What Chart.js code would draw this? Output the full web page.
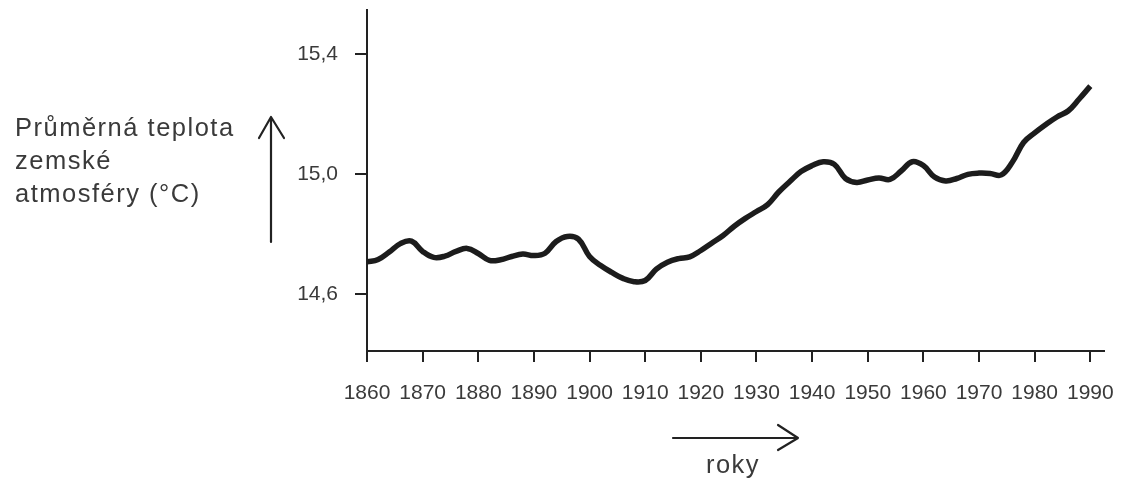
<!DOCTYPE html>
<html>
<head>
<meta charset="utf-8">
<script src="https://cdn.jsdelivr.net/npm/chart.js@4.4.0/dist/chart.umd.min.js"></script>
<style>
  body { margin: 0; background: #fff; }
  #wrap { position: relative; width: 1128px; height: 483px; }
  .lbl {
    position: absolute;
    font-family: "Liberation Sans", Arial, Helvetica, sans-serif;
    font-size: 25.5px;
    letter-spacing: 1.5px;
    line-height: 33.2px;
    color: #3a3a3a;
    white-space: nowrap;
  }
</style>
</head>
<body>
<div id="wrap">
  <canvas id="tempChart" width="1128" height="483"></canvas>
  <div class="lbl" style="left:15px; top:111px;">Průměrná teplota<br>zemské<br>atmosféry (°C)</div>
  <div class="lbl" style="left:633px; top:448px; width:200px; text-align:center;">roky</div>
</div>
<script>
  'use strict';

  // Years and mean temperature
  const years = [
    1860, 1862, 1864, 1866, 1868, 1870, 1872, 1874, 1876, 1878,
    1880, 1882, 1884, 1886, 1888, 1890, 1892, 1894, 1896, 1898,
    1900, 1902, 1904, 1906, 1908, 1910, 1912, 1914, 1916, 1918,
    1920, 1922, 1924, 1926, 1928, 1930, 1932, 1934, 1936, 1938,
    1940, 1942, 1944, 1946, 1948, 1950, 1952, 1954, 1956, 1958,
    1960, 1962, 1964, 1966, 1968, 1970, 1972, 1974, 1976, 1978,
    1980, 1982, 1984, 1986, 1988, 1990
  ];
  const temps = [
    14.707, 14.715, 14.740, 14.768, 14.776, 14.742, 14.722, 14.726, 14.742, 14.752,
    14.735, 14.712, 14.714, 14.725, 14.733, 14.728, 14.736, 14.775, 14.792, 14.783,
    14.725, 14.695, 14.672, 14.652, 14.641, 14.645, 14.683, 14.706, 14.718, 14.724,
    14.745, 14.770, 14.795, 14.826, 14.852, 14.875, 14.898, 14.940, 14.975, 15.008,
    15.028, 15.041, 15.032, 14.985, 14.972, 14.980, 14.987, 14.982, 15.010, 15.041,
    15.028, 14.990, 14.977, 14.985, 14.999, 15.003, 15.002, 14.997, 15.040, 15.105,
    15.137, 15.165, 15.190, 15.210, 15.250, 15.293
  ];

  // Tick labels
  const yearTicks = [1860, 1870, 1880, 1890, 1900, 1910, 1920, 1930, 1940, 1950, 1960, 1970, 1980, 1990];
  const tempTicks = [14.6, 15.0, 15.4];

  const ink = '#222';
  const tickFont = { family: '"Liberation Sans", Arial, Helvetica, sans-serif', size: 21 };

  // Arrows next to the axis titles
  const arrowPlugin = {
    id: 'arrows',
    afterDraw(chart) {
      const ctx = chart.ctx;
      ctx.save();
      ctx.strokeStyle = ink;
      ctx.lineWidth = 2.2;
      ctx.lineCap = 'round';
      ctx.lineJoin = 'round';
      // up arrow
      ctx.beginPath();
      ctx.moveTo(271, 242);
      ctx.lineTo(271, 117);
      ctx.moveTo(259, 138);
      ctx.lineTo(271, 117);
      ctx.lineTo(284, 138);
      ctx.stroke();
      // right arrow
      ctx.beginPath();
      ctx.moveTo(673, 438);
      ctx.lineTo(798, 438);
      ctx.moveTo(778, 425);
      ctx.lineTo(798, 438);
      ctx.lineTo(778, 450);
      ctx.stroke();
      ctx.restore();
    }
  };

  const ctx = document.getElementById('tempChart').getContext('2d');
  new Chart(ctx, {
    type: 'line',
    data: {
      datasets: [{
        data: years.map((y, i) => ({ x: y, y: temps[i] })),
        borderColor: '#1c1c1c',
        borderWidth: 5.5,
        pointRadius: 0,
        tension: 0.4,
        fill: false
      }]
    },
    options: {
      responsive: false,
      animation: false,
      layout: { padding: { top: 10, right: 24, left: 0, bottom: 0 } },
      plugins: {
        legend: { display: false },
        tooltip: { enabled: false }
      },
      scales: {
        x: {
          type: 'linear',
          min: 1860,
          max: 1992.46,
          afterBuildTicks: scale => { scale.ticks = yearTicks.map(v => ({ value: v })); },
          afterFit: scale => {
            scale.height = 132;
            scale.paddingLeft = 0;
            scale.paddingRight = 0;
          },
          border: { display: true, color: ink, width: 2 },
          grid: { drawOnChartArea: false, drawTicks: true, tickLength: 11, color: ink, lineWidth: 2 },
          ticks: {
            color: '#3a3a3a',
            font: tickFont,
            padding: 19,
            maxRotation: 0,
            autoSkip: false,
            callback: v => String(v)
          }
        },
        y: {
          min: 14.41,
          max: 15.5467,
          afterBuildTicks: scale => { scale.ticks = tempTicks.map(v => ({ value: v })); },
          afterFit: scale => {
            scale.width = 367;
            scale.paddingTop = 0;
            scale.paddingBottom = 0;
          },
          border: { display: true, color: ink, width: 2 },
          grid: { drawOnChartArea: false, drawTicks: true, tickLength: 12, color: ink, lineWidth: 2 },
          ticks: {
            color: '#3a3a3a',
            font: tickFont,
            padding: 17,
            callback: v => v.toFixed(1).replace('.', ',')
          }
        }
      }
    },
    plugins: [arrowPlugin]
  });
</script>
</body>
</html>
